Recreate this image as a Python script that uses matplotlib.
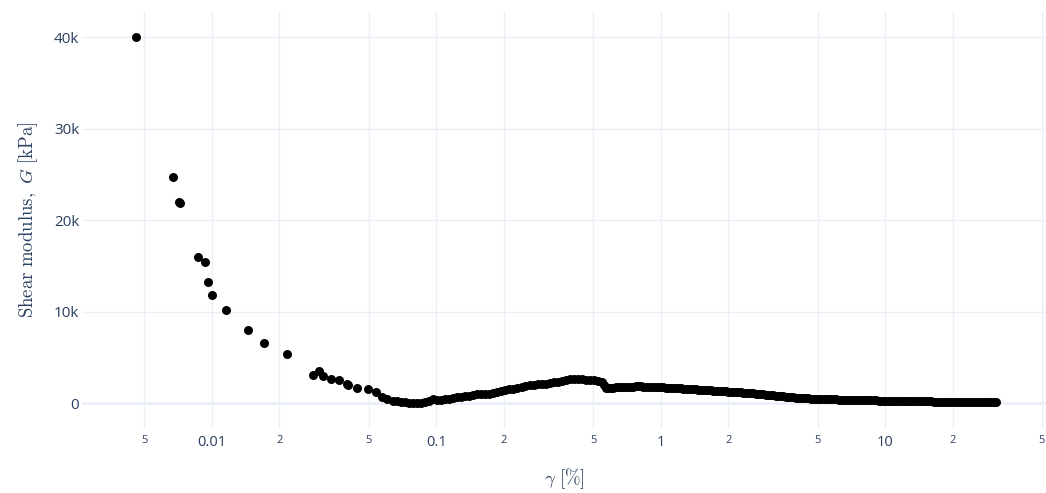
import numpy as np
import matplotlib
matplotlib.use("Agg")
import matplotlib.pyplot as plt

# Shear strain [%] and shear modulus [kPa]
strain_low = [0.00458, 0.00670, 0.00710, 0.00718, 0.00863, 0.00933, 0.00957, 0.0100,
              0.01155, 0.01442, 0.0171, 0.0217, 0.0283, 0.0301, 0.0312, 0.0340,
              0.0370, 0.0398, 0.0405, 0.0444, 0.0495, 0.0540]
g_low = [40000, 24700, 21950, 21900, 16000, 15400, 13300, 11800,
         10250, 7980, 6630, 5430, 3060, 3480, 2990, 2700,
         2510, 2150, 2040, 1680, 1600, 1240]

strain_mid = [0.0573, 0.0605, 0.0643, 0.0670, 0.0698, 0.0727, 0.0758, 0.0789, 0.0823, 0.0857,
              0.0893, 0.0930, 0.0970, 0.1010, 0.1053, 0.1097, 0.1143, 0.1191, 0.1241, 0.1293,
              0.1347, 0.1404, 0.1463, 0.1524, 0.1588, 0.1655, 0.1724, 0.1797, 0.1872, 0.1951,
              0.2032, 0.2118, 0.2207, 0.2299, 0.2396, 0.2496, 0.2601, 0.2710, 0.2824, 0.2942,
              0.3066, 0.3194, 0.3328, 0.3468, 0.3614, 0.3765, 0.3923, 0.4088, 0.4260, 0.4438,
              0.4625, 0.4819, 0.5021, 0.5232, 0.5451, 0.5564]
g_mid = [720, 440, 290, 200, 140, 90, 60, 40, 50, 80,
         160, 260, 450, 380, 330, 420, 500, 560, 640, 710,
         780, 840, 900, 980, 1040, 1020, 1060, 1160, 1250, 1340,
         1450, 1520, 1610, 1720, 1800, 1880, 1950, 2020, 2080, 2110,
         2140, 2200, 2280, 2380, 2470, 2560, 2630, 2680, 2680, 2650,
         2600, 2550, 2500, 2440, 2350, 2000]

# large-strain tail (dense, reads as a solid band)
strain_high = [0.5680, 0.5981, 0.6296, 0.6628, 0.6979, 0.7346, 0.7734, 0.8141, 0.8571, 0.9024,
               0.9499, 1.000, 1.053, 1.108, 1.167, 1.228, 1.293, 1.361, 1.433, 1.509,
               1.588, 1.672, 1.760, 1.853, 1.951, 2.054, 2.162, 2.276, 2.396, 2.522,
               2.655, 2.795, 2.943, 3.098, 3.261, 3.433, 3.614, 3.805, 4.005, 4.217,
               4.439, 4.673, 4.920, 5.179, 5.452, 5.740, 6.043, 6.362, 6.697, 7.050,
               7.422, 7.814, 8.226, 8.660, 9.117, 9.597, 10.10, 10.64, 11.20, 11.79,
               12.41, 13.07, 13.75, 14.48, 15.24, 16.05, 16.89, 17.78, 18.72, 19.71,
               20.75, 21.85, 23.00, 24.21, 25.49, 26.83, 28.24, 29.73, 31.30]
g_high = [1720, 1680, 1740, 1790, 1800, 1830, 1840, 1840, 1830, 1820,
          1800, 1770, 1720, 1690, 1650, 1620, 1590, 1550, 1520, 1480,
          1450, 1420, 1380, 1350, 1310, 1270, 1230, 1190, 1150, 1110,
          1060, 1010, 960, 910, 850, 790, 730, 670, 620, 580,
          550, 520, 500, 480, 460, 440, 420, 400, 380, 365,
          350, 340, 330, 320, 310, 300, 290, 280, 270, 260,
          250, 240, 230, 220, 210, 200, 190, 180, 170, 160,
          150, 140, 135, 130, 125, 120, 110, 100, 90]

strain_high_b = [0.5829, 0.6137, 0.6460, 0.6801, 0.7160, 0.7538, 0.7935, 0.8353, 0.8795, 0.9258,
                 0.9746, 1.026, 1.080, 1.137, 1.197, 1.260, 1.327, 1.397, 1.471, 1.548,
                 1.630, 1.715, 1.806, 1.901, 2.002, 2.107, 2.218, 2.335, 2.458, 2.588,
                 2.724, 2.868, 3.020, 3.178, 3.346, 3.522, 3.708, 3.904, 4.110, 4.327,
                 4.554, 4.795, 5.048, 5.314, 5.594, 5.890, 6.200, 6.527, 6.871, 7.234,
                 7.616, 8.017, 8.440, 8.886, 9.354, 9.845, 10.37, 10.92, 11.49, 12.10,
                 12.74, 13.41, 14.11, 14.86, 15.64, 16.46, 17.33, 18.24, 19.21, 20.22,
                 21.29, 22.42, 23.60, 24.84, 26.15, 27.53, 28.98, 30.50]
g_high_b = [1700, 1710, 1765, 1795, 1815, 1835, 1840, 1835, 1825, 1810,
            1785, 1745, 1705, 1670, 1635, 1605, 1570, 1535, 1500, 1465,
            1435, 1400, 1365, 1330, 1290, 1250, 1210, 1170, 1130, 1085,
            1035, 985, 935, 880, 820, 760, 700, 645, 600, 565,
            535, 510, 490, 470, 450, 430, 410, 390, 372, 357,
            345, 335, 325, 315, 305, 295, 285, 275, 265, 255,
            245, 235, 225, 215, 205, 195, 185, 175, 165, 155,
            145, 138, 132, 128, 122, 115, 105, 95]

x_ticks = [0.005, 0.01, 0.02, 0.05, 0.1, 0.2, 0.5, 1, 2, 5, 10, 20, 50]
x_tick_labels = ["5", "0.01", "2", "5", "0.1", "2", "5", "1", "2", "5", "10", "2", "5"]
y_ticks = [0, 10000, 20000, 30000, 40000]
y_tick_labels = ["0", "10k", "20k", "30k", "40k"]

strain = np.concatenate([strain_low, strain_mid, strain_high, strain_high_b])
g = np.concatenate([g_low, g_mid, g_high, g_high_b])

text_color = "#2a3f5f"
grid_color = "#ebf0f8"

plt.rcParams["font.family"] = ["Open Sans", "DejaVu Sans"]
plt.rcParams["mathtext.fontset"] = "cm"

fig = plt.figure(figsize=(10.46, 4.93), dpi=100)
ax = fig.add_axes([0.0784, 0.1318, 0.9216, 0.8459])

ax.scatter(strain, g, s=42, color="black", linewidths=0, zorder=3)

ax.set_xscale("log")
ax.set_xlim(0.002636, 52.1)
ax.set_ylim(-2700, 42870)
ax.minorticks_off()

# -------- ticks --------
ax.set_xticks(x_ticks)
ax.set_xticklabels(x_tick_labels)
for lab, text in zip(ax.get_xticklabels(), x_tick_labels):
    lab.set_fontsize(10.5 if "." in text or text in ("1", "10") else 8)
ax.set_yticks(y_ticks)
ax.set_yticklabels(y_tick_labels, fontsize=11)
ax.tick_params(length=0, colors=text_color, pad=2)
ax.tick_params(axis="x", pad=5)

# -------- grid --------
ax.grid(True, color=grid_color, linewidth=1)
ax.axhline(0, color=grid_color, linewidth=2, zorder=1)
ax.set_axisbelow(True)
for side in ax.spines:
    ax.spines[side].set_visible(False)

ax.set_xlabel(r"$\gamma\ \mathrm{[\%]}$", fontsize=13.5, color=text_color, labelpad=12)
ax.set_ylabel(r"$\mathrm{Shear\ modulus,}\ G\ \mathrm{[kPa]}$", fontsize=13.5,
              color=text_color, labelpad=10)

fig.savefig("out.png", dpi=100)
